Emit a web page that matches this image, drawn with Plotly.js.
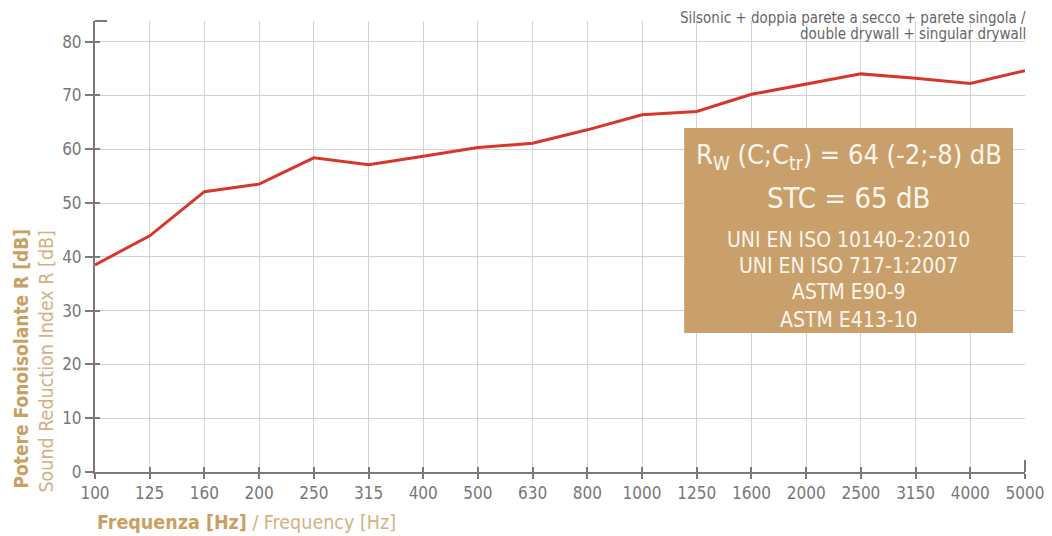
<!DOCTYPE html>
<html>
<head>
<meta charset="utf-8">
<script src="https://cdn.plot.ly/plotly-3.0.1.min.js"></script>
<style>
  html, body { margin: 0; padding: 0; background: #ffffff; }
  #chart { width: 1052px; height: 536px; }
</style>
</head>
<body>
<div id="chart"></div>
<script>
// ---- data ----
var frequencies = ['100','125','160','200','250','315','400','500','630','800','1000','1250','1600','2000','2500','3150','4000','5000'];
var soundReduction = [38.5, 43.9, 52.1, 53.5, 58.4, 57.1, 58.7, 60.3, 61.1, 63.6, 66.4, 67.0, 70.2, 72.1, 74.0, 73.2, 72.2, 74.6];
var yTicks = [0, 10, 20, 30, 40, 50, 60, 70, 80];
var gridFreqs = frequencies.slice(1, frequencies.length - 1);
var legendLines = ['Silsonic + doppia parete a secco + parete singola /', 'double drywall + singular drywall'];
var boxLines = [
  'R<sub>W</sub> (C;C<sub>tr</sub>) = 64 (-2;-8) dB',
  'STC = 65 dB',
  'UNI EN ISO 10140-2:2010',
  'UNI EN ISO 717-1:2007',
  'ASTM E90-9',
  'ASTM E413-10'
];
var yTitleMain = 'Potere Fonoisolante R [dB]';
var yTitleSub = 'Sound Reduction Index R [dB]';
var xTitleMain = 'Frequenza [Hz]';
var xTitleSub = ' / Frequency [Hz]';

// ---- style ----
var FONT = '"Liberation Sans Narrow", "DejaVu Sans Condensed", "Liberation Sans", sans-serif';
var AXIS = '#7a7a7a';
var GRID = '#d2d2d2';
var TAN = '#c9a063';
var TAN_LIGHT = '#d3b184';
var BOX = '#c9a06b';
var BOX_TEXT = '#fbf6ec';

var L = 94.5, R = 27, T = 21, B = 64;
var W = 1052, H = 536;
var pw = W - L - R, ph = H - T - B;
function px(x) { return (x - L) / pw; }
function py(y) { return (H - B - y) / ph; }

var trace = {
  x: frequencies,
  y: soundReduction,
  type: 'scatter',
  mode: 'lines',
  line: { color: '#d7372b', width: 3 },
  hoverinfo: 'x+y',
  showlegend: false
};

var boxSizes = [27, 29, 21, 21, 21, 21];
var boxY = [157, 198, 240, 266, 292, 320];
var annotations = [];
for (var i = 0; i < boxLines.length; i++) {
  annotations.push({
    xref: 'paper', yref: 'paper',
    x: px(848.5), y: py(boxY[i]),
    xanchor: 'center', yanchor: 'middle',
    text: boxLines[i], showarrow: false,
    font: { family: FONT, size: boxSizes[i], color: BOX_TEXT }
  });
}
var legY = [18, 34];
for (var j = 0; j < legendLines.length; j++) {
  annotations.push({
    xref: 'paper', yref: 'paper',
    x: px(1028), y: py(legY[j]),
    xanchor: 'right', yanchor: 'middle',
    text: legendLines[j], showarrow: false,
    font: { family: FONT, size: 15, color: '#666666' }
  });
}
annotations.push({
  xref: 'paper', yref: 'paper',
  x: px(20), y: py(359), xanchor: 'center', yanchor: 'middle',
  textangle: -90, showarrow: false,
  text: '<b>' + yTitleMain + '</b>',
  font: { family: FONT, size: 19, color: TAN }
});
annotations.push({
  xref: 'paper', yref: 'paper',
  x: px(45), y: py(362), xanchor: 'center', yanchor: 'middle',
  textangle: -90, showarrow: false,
  text: yTitleSub,
  font: { family: FONT, size: 19.5, color: TAN_LIGHT }
});
annotations.push({
  xref: 'paper', yref: 'paper',
  x: px(95), y: py(522), xanchor: 'left', yanchor: 'middle',
  showarrow: false,
  text: '<b><span style="color:' + TAN + '">' + xTitleMain + '</span></b><span style="color:' + TAN_LIGHT + '">' + xTitleSub + '</span>',
  font: { family: FONT, size: 19.5, color: TAN }
});

var layout = {
  width: W, height: H,
  margin: { l: L, r: R, t: T, b: B, pad: 0 },
  paper_bgcolor: '#ffffff',
  plot_bgcolor: '#ffffff',
  showlegend: false,
  font: { family: FONT, color: AXIS },
  xaxis: {
    type: 'category',
    categoryorder: 'array', categoryarray: frequencies,
    range: [0, frequencies.length - 1],
    showline: true, linecolor: AXIS, linewidth: 2,
    ticks: 'outside', ticklen: 5, tickwidth: 2, tickcolor: AXIS,
    showgrid: false, zeroline: false,
    tickfont: { family: FONT, size: 17, color: '#777777' },
    fixedrange: true
  },
  xaxis2: {
    type: 'category',
    categoryorder: 'array', categoryarray: frequencies,
    range: [0, frequencies.length - 1],
    overlaying: 'x', anchor: 'y',
    tickmode: 'array', tickvals: gridFreqs,
    showline: false, showticklabels: false,
    ticks: 'inside', ticklen: 5, tickwidth: 2, tickcolor: AXIS,
    showgrid: true, gridcolor: GRID, gridwidth: 1,
    zeroline: false, fixedrange: true, layer: 'below traces'
  },
  yaxis: {
    range: [0, (H - B - T) / 5.38],
    tickmode: 'array', tickvals: yTicks,
    showline: true, linecolor: AXIS, linewidth: 2,
    ticks: 'outside', ticklen: 8, tickwidth: 2, tickcolor: AXIS,
    showgrid: true, gridcolor: GRID, gridwidth: 1,
    zeroline: false,
    tickfont: { family: FONT, size: 17, color: '#777777' },
    fixedrange: true
  },
  yaxis2: {
    range: [0, (H - B - T) / 5.38],
    overlaying: 'y', anchor: 'x',
    tickmode: 'array', tickvals: yTicks,
    showline: false, showticklabels: false,
    ticks: 'inside', ticklen: 5, tickwidth: 2, tickcolor: AXIS,
    showgrid: false, zeroline: false, fixedrange: true
  },
  shapes: [
    { type: 'rect', xref: 'paper', yref: 'paper',
      x0: px(684), x1: px(1013), y0: py(333), y1: py(128),
      fillcolor: BOX, line: { width: 0 }, layer: 'above' },
    { type: 'line', xref: 'paper', yref: 'paper',
      x0: 0, x1: 12 / pw, y0: 1, y1: 1,
      line: { color: AXIS, width: 2 } },
    { type: 'line', xref: 'paper', yref: 'paper',
      x0: 1, x1: 1, y0: 0, y1: 12 / ph,
      line: { color: AXIS, width: 2 } }
  ],
  annotations: annotations
};

var ghost = { x: [], y: [], xaxis: 'x2', yaxis: 'y2', type: 'scatter', hoverinfo: 'skip', showlegend: false };

Plotly.newPlot('chart', [ghost, trace], layout, { displayModeBar: false, staticPlot: true });
</script>
</body>
</html>
